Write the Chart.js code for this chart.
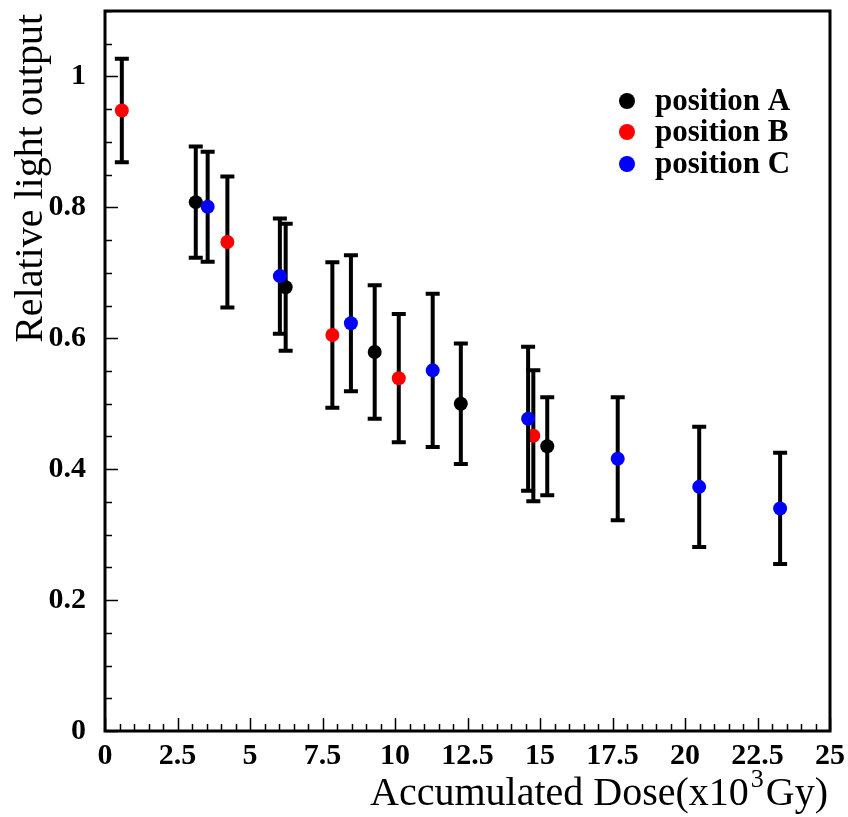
<!DOCTYPE html>
<html>
<head>
<meta charset="utf-8">
<title>Relative light output vs accumulated dose</title>
<script src="https://cdn.jsdelivr.net/npm/chart.js@4.4.1/dist/chart.umd.min.js"></script>
<style>
  html, body { margin: 0; padding: 0; background: #fff; }
  #wrap { width: 848px; height: 817px; }
</style>
</head>
<body>
<div id="wrap"><canvas id="doseChart"></canvas></div>
<script>
// position A
const doseA  = [3.13, 6.23, 9.30, 12.27, 15.25];
const lightA = [0.808, 0.678, 0.579, 0.500, 0.435];
const errA   = [0.085, 0.097, 0.102, 0.092, 0.075];

// position B
const doseB  = [0.58, 4.22, 7.84, 10.13, 14.77];
const lightB = [0.948, 0.747, 0.605, 0.539, 0.451];
const errB   = [0.079, 0.100, 0.111, 0.098, 0.100];

// position C
const doseC  = [3.54, 6.03, 8.48, 11.30, 14.59, 17.68, 20.49, 23.28];
const lightC = [0.801, 0.695, 0.623, 0.551, 0.477, 0.416, 0.373, 0.340];
const errC   = [0.084, 0.088, 0.104, 0.117, 0.110, 0.094, 0.092, 0.085];

// axis labels
const xTicks = [0, 2.5, 5, 7.5, 10, 12.5, 15, 17.5, 20, 22.5, 25];
const yTicks = [0, 0.2, 0.4, 0.6, 0.8, 1];
const xMinorStep = 0.5;
const yMinorStep = 0.05;

const SERIF = '"Liberation Serif", "Times New Roman", serif';

function points(xs, ys) {
    return xs.map((x, i) => ({ x: x, y: ys[i] }));
}

// vertical error bars with caps, drawn just before each dataset's markers
const errorBars = {
    id: 'errorBars',
    beforeDatasetDraw(chart, args) {
        const ds = chart.data.datasets[args.index];
        if (!ds.errors) return;
        const xs = chart.scales.x, ys = chart.scales.y;
        const ctx = chart.ctx;
        ctx.save();
        ctx.strokeStyle = '#000';
        ctx.lineWidth = 4;
        ds.data.forEach((p, i) => {
            const e = ds.errors[i];
            const px = xs.getPixelForValue(p.x);
            const top = ys.getPixelForValue(p.y + e);
            const bot = ys.getPixelForValue(p.y - e);
            ctx.beginPath();
            ctx.moveTo(px, top);
            ctx.lineTo(px, bot);
            ctx.moveTo(px - 7, top);
            ctx.lineTo(px + 7, top);
            ctx.moveTo(px - 7, bot);
            ctx.lineTo(px + 7, bot);
            ctx.stroke();
        });
        ctx.restore();
    }
};

// box frame with inward ticks on the left and bottom
const frame = {
    id: 'frame',
    afterDraw(chart) {
        const { ctx, chartArea: a } = chart;
        const xs = chart.scales.x, ys = chart.scales.y;
        ctx.save();
        ctx.strokeStyle = '#000';
        ctx.lineWidth = 1.5;
        ctx.beginPath();
        for (let v = xs.min; v <= xs.max + 1e-9; v += xMinorStep) {
            const px = Math.round(xs.getPixelForValue(v)) + 0.5;
            const len = xTicks.some(t => Math.abs(t - v) < 1e-6) ? 13 : 7;
            ctx.moveTo(px, a.bottom);
            ctx.lineTo(px, a.bottom - len);
        }
        for (let v = ys.min; v <= ys.max + 1e-9; v += yMinorStep) {
            const py = Math.round(ys.getPixelForValue(v)) + 0.5;
            const len = yTicks.some(t => Math.abs(t - v) < 1e-6) ? 13 : 7;
            ctx.moveTo(a.left, py);
            ctx.lineTo(a.left + len, py);
        }
        ctx.stroke();
        ctx.lineWidth = 3;
        ctx.strokeRect(a.left, a.top, a.right - a.left, a.bottom - a.top);
        ctx.restore();
    }
};

// axis titles and the legend box in the upper right
const annotations = {
    id: 'annotations',
    afterDraw(chart) {
        const ctx = chart.ctx;
        const a = chart.chartArea;
        ctx.save();
        ctx.fillStyle = '#000';
        ctx.textBaseline = 'alphabetic';

        // x title, right aligned to the frame
        const big = '40px ' + SERIF, sup = '26px ' + SERIF;
        const part1 = 'Accumulated Dose(x10', part2 = '3', part3 = 'Gy)';
        ctx.font = big;
        const w1 = ctx.measureText(part1).width, w3 = ctx.measureText(part3).width;
        ctx.font = sup;
        const w2 = ctx.measureText(part2).width;
        let x = a.right - 2 - (w1 + w2 + w3 + 4);
        const base = 805;
        ctx.font = big;
        ctx.fillText(part1, x, base);
        x += w1 + 2;
        ctx.font = sup;
        ctx.fillText(part2, x, base - 18);
        x += w2 + 2;
        ctx.font = big;
        ctx.fillText(part3, x, base);

        // y title, rotated, ending at the top of the frame
        ctx.save();
        ctx.translate(42, a.top + 3);
        ctx.rotate(-Math.PI / 2);
        ctx.font = '40px ' + SERIF;
        ctx.textAlign = 'right';
        ctx.fillText('Relative light output', 0, 0);
        ctx.restore();

        // legend
        const rows = [101, 132, 164];
        ctx.font = 'bold 31px ' + SERIF;
        ctx.textBaseline = 'middle';
        chart.data.datasets.forEach((ds, i) => {
            ctx.fillStyle = ds.backgroundColor;
            ctx.beginPath();
            ctx.arc(627, rows[i], 8, 0, Math.PI * 2);
            ctx.fill();
            ctx.fillStyle = '#000';
            ctx.fillText(ds.label, 655, rows[i] + 1);
        });
        ctx.restore();
    }
};

function series(label, xs, ys, errs, color, order) {
    return {
        label: label,
        data: points(xs, ys),
        errors: errs,
        backgroundColor: color,
        borderColor: color,
        borderWidth: 0,
        pointRadius: 7,
        pointHoverRadius: 7,
        showLine: false,
        order: order
    };
}

new Chart(document.getElementById('doseChart'), {
    type: 'scatter',
    data: {
        datasets: [
            series('position A', doseA, lightA, errA, '#000000', 3),
            series('position B', doseB, lightB, errB, '#ff0000', 2),
            series('position C', doseC, lightC, errC, '#0000ff', 1)
        ]
    },
    options: {
        responsive: true,
        maintainAspectRatio: false,
        animation: false,
        layout: { padding: { left: 0, right: 18, top: 11, bottom: 0 } },
        plugins: {
            legend: { display: false },
            tooltip: { enabled: false }
        },
        scales: {
            x: {
                type: 'linear',
                min: 0,
                max: 25,
                grid: { display: false, drawTicks: false },
                border: { display: false },
                afterBuildTicks: s => { s.ticks = xTicks.map(v => ({ value: v })); },
                afterFit: s => { s.height = 86; s.paddingLeft = 0; s.paddingRight = 0; },
                ticks: {
                    padding: 7,
                    maxRotation: 0,
                    autoSkip: false,
                    color: '#000',
                    font: { family: SERIF, size: 30, weight: 'bold' },
                    callback: v => String(v)
                }
            },
            y: {
                type: 'linear',
                min: 0,
                max: 1.1,
                grid: { display: false, drawTicks: false },
                border: { display: false },
                afterBuildTicks: s => { s.ticks = yTicks.map(v => ({ value: v })); },
                afterFit: s => { s.width = 105; s.paddingTop = 0; s.paddingBottom = 0; },
                ticks: {
                    padding: 19,
                    color: '#000',
                    font: { family: SERIF, size: 30, weight: 'bold' },
                    callback: v => String(v)
                }
            }
        }
    },
    plugins: [errorBars, frame, annotations]
});
</script>
</body>
</html>
